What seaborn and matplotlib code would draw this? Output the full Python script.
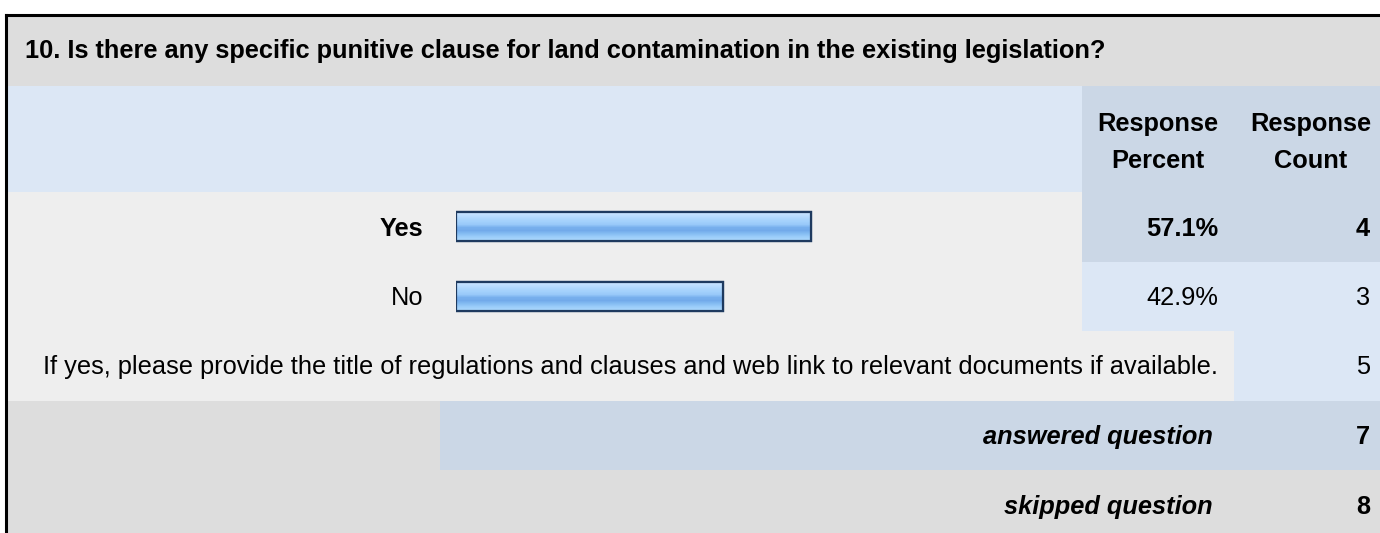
import matplotlib
matplotlib.use("Agg")
import matplotlib.pyplot as plt
import seaborn as sns
import numpy as np
import pandas as pd
from matplotlib.patches import Rectangle

QUESTION = "10. Is there any specific punitive clause for land contamination in the existing legislation?"
ANSWERS = ["Yes", "No"]
PERCENTS = [57.1, 42.9]
COUNTS = [4, 3]
OTHER_TEXT = ("If yes, please provide the title of regulations and clauses "
              "and web link to relevant documents if available.")
OTHER_COUNT = 5
ANSWERED = 7
SKIPPED = 8

W, H = 1380, 533
GRAY = "#DDDDDD"
LIGHT = "#EEEEEE"
BLUE_L = "#DCE7F5"
BLUE_D = "#CBD7E6"
NAVY = "#1E3A5F"
FS = 18.3

sns.set_theme(style="white")
plt.rcParams["font.family"] = ["Liberation Sans", "DejaVu Sans"]

fig = plt.figure(figsize=(W / 100, H / 100), dpi=100)
fig.patch.set_facecolor("white")

bg = fig.add_axes([0, 0, 1, 1])
bg.set_xlim(0, W)
bg.set_ylim(H, 0)
bg.axis("off")


def box(x0, y0, x1, y1, c):
    bg.add_patch(Rectangle((x0, y0), x1 - x0, y1 - y0, facecolor=c,
                           edgecolor="none", zorder=0))


L = 6
box(L, 15, W, 86, GRAY)
box(L, 86, 1082, 192, BLUE_L)
box(1082, 86, W, 192, BLUE_D)
box(L, 192, 1082, 262, LIGHT)
box(1082, 192, W, 262, BLUE_D)
box(L, 262, 1082, 331, LIGHT)
box(1082, 262, W, 331, BLUE_L)
box(L, 331, 1234, 401, LIGHT)
box(1234, 331, W, 401, BLUE_L)
box(L, 401, 440, 470, GRAY)
box(440, 401, W, 470, BLUE_D)
box(L, 470, W, H, GRAY)

# outer border
bg.plot([L, L], [H, 15], color="black", lw=2.2, solid_capstyle="projecting")
bg.plot([L, W], [15, 15], color="black", lw=2.2, solid_capstyle="projecting")

txt = dict(fontsize=FS, color="black", va="center")
bg.text(25, 51, QUESTION, ha="left", fontweight="bold", **txt)
bg.text(1158, 124, "Response", ha="center", fontweight="bold", **txt)
bg.text(1158, 161, "Percent", ha="center", fontweight="bold", **txt)
bg.text(1311, 124, "Response", ha="center", fontweight="bold", **txt)
bg.text(1311, 161, "Count", ha="center", fontweight="bold", **txt)

row_y = [229, 298]
for i, (a, p, c) in enumerate(zip(ANSWERS, PERCENTS, COUNTS)):
    wt = "bold" if i == 0 else "normal"
    bg.text(423, row_y[i], a, ha="right", fontweight=wt, **txt)
    bg.text(1218, row_y[i], f"{p:.1f}%", ha="right", fontweight=wt, **txt)
    bg.text(1370, row_y[i], str(c), ha="right", fontweight=wt, **txt)

bg.text(1218, 367, OTHER_TEXT, ha="right", **txt)
bg.text(1370, 367, str(OTHER_COUNT), ha="right", **txt)
bg.text(1213, 437, "answered question", ha="right", fontweight="bold",
        fontstyle="italic", **txt)
bg.text(1370, 437, str(ANSWERED), ha="right", fontweight="bold", **txt)
bg.text(1213, 507, "skipped question", ha="right", fontweight="bold",
        fontstyle="italic", **txt)
bg.text(1370, 507, str(SKIPPED), ha="right", fontweight="bold", **txt)

# bar chart area: 0..100 % spans 456..1078 px, rows Yes/No
ax = fig.add_axes([456 / W, 1 - 331 / H, 622 / W, 139 / H])
ax.patch.set_alpha(0)
df = pd.DataFrame({"answer": ANSWERS, "percent": PERCENTS})
sns.barplot(data=df, x="percent", y="answer", orient="h", width=0.42,
            color="#8FC2F5", edgecolor=NAVY, linewidth=1.6, saturation=1,
            ax=ax)
ax.set_xlim(0, 100)
ax.set_ylim(1.5, -0.5)
ax.axis("off")

grad_cols = np.array([
    [0.80, 0.90, 1.00], [0.74, 0.87, 1.00], [0.68, 0.84, 0.99],
    [0.64, 0.82, 0.99], [0.60, 0.79, 0.98], [0.47, 0.69, 0.93],
    [0.45, 0.67, 0.92], [0.52, 0.74, 0.95], [0.60, 0.80, 0.98],
    [0.66, 0.84, 0.99],
])
img = grad_cols[:, None, :]
for patch in ax.patches:
    x0, y0 = patch.get_x(), patch.get_y()
    w, h = patch.get_width(), patch.get_height()
    im = ax.imshow(img, extent=(x0, x0 + w, y0 + h, y0), aspect="auto",
                   interpolation="bilinear", zorder=patch.get_zorder() + 0.1)
    im.set_clip_path(patch)
    ax.add_patch(Rectangle((x0, y0), w, h, facecolor="none", edgecolor=NAVY,
                           linewidth=1.6, zorder=patch.get_zorder() + 0.2))
ax.set_xlim(0, 100)
ax.set_ylim(1.5, -0.5)

fig.savefig("out.png", dpi=100)
